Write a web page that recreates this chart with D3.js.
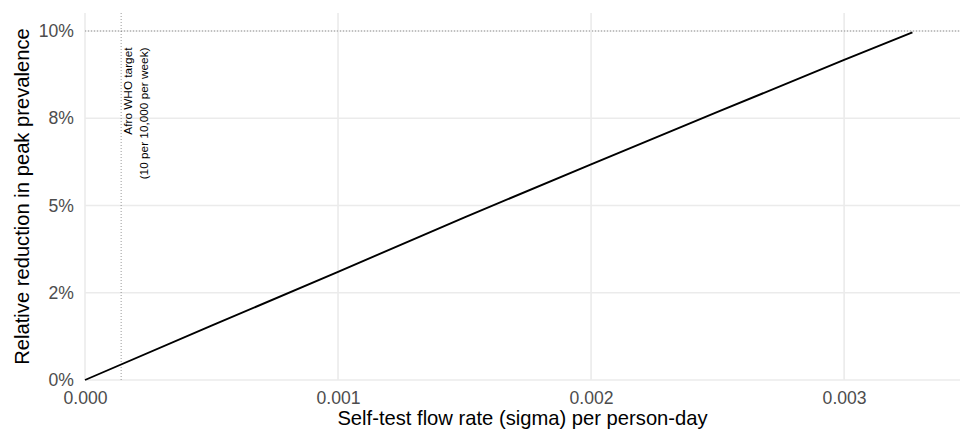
<!DOCTYPE html>
<html>
<head>
<meta charset="utf-8">
<script src="https://cdn.jsdelivr.net/npm/d3@7"></script>
<style>
    body { margin: 0; background: #fff; }
    text { font-family: "Liberation Sans", Arial, sans-serif; }
</style>
</head>
<body>
<script>
// データ
const sigma = [0, 0.0005, 0.001, 0.0015, 0.002, 0.0025, 0.003, 0.00327];
const reduction = [0, 0.01556, 0.0310, 0.0466, 0.0618, 0.0768, 0.0917, 0.0996];
const xTicks = [0, 0.001, 0.002, 0.003];
const yTicks = [0, 0.025, 0.05, 0.075, 0.1];
const yTickLabels = ["0%", "2%", "5%", "8%", "10%"];
const targetSigma = 10 / 10000 / 7;
const targetLabel = ["Afro WHO target", "(10 per 10,000 per week)"];
const hlineValue = 0.1;

let width = 960;
let height = 432;
let marginTop = 13;
let marginRight = 0;
let marginBottom = 52;
let marginLeft = 85;

window.addEventListener('load', () => {
    draw();
}, false);

function draw() {
    let chartWidth = width - marginLeft - marginRight;
    let chartHeight = height - marginTop - marginBottom;

    const svg = d3.select("body")
        .append("svg")
        .attr("width", width)
        .attr("height", height);

    const g = svg.append("g")
        .attr("transform", "translate(" + marginLeft + "," + marginTop + ")");

    let xScale = d3.scaleLinear()
        .domain([0, 0.003458])
        .range([0, chartWidth]);

    let yScale = d3.scaleLinear()
        .domain([0, 0.10516])
        .range([chartHeight, 0]);

    // grid
    g.append("g")
        .selectAll("line")
        .data(xTicks)
        .join("line")
        .attr("x1", d => xScale(d))
        .attr("x2", d => xScale(d))
        .attr("y1", 0)
        .attr("y2", chartHeight)
        .attr("stroke", "#ebebeb")
        .attr("stroke-width", 1.6);

    g.append("g")
        .selectAll("line")
        .data(yTicks)
        .join("line")
        .attr("x1", 0)
        .attr("x2", chartWidth)
        .attr("y1", d => yScale(d))
        .attr("y2", d => yScale(d))
        .attr("stroke", "#ebebeb")
        .attr("stroke-width", 1.6);

    // x axis
    const xAxis = g.append("g")
        .attr("transform", "translate(0," + chartHeight + ")")
        .call(d3.axisBottom(xScale).tickValues(xTicks).tickFormat(d3.format(".3f")).tickSize(0).tickPadding(12));
    xAxis.select(".domain").remove();
    xAxis.selectAll("text")
        .attr("fill", "#4d4d4d")
        .style("font-size", "17.6px");

    // y axis
    const yAxis = g.append("g")
        .call(d3.axisLeft(yScale).tickValues(yTicks).tickFormat((d, i) => yTickLabels[i]).tickSize(0).tickPadding(11));
    yAxis.select(".domain").remove();
    yAxis.selectAll("text")
        .attr("fill", "#4d4d4d")
        .style("font-size", "17.6px");

    // reference lines
    g.append("line")
        .attr("x1", xScale(targetSigma))
        .attr("x2", xScale(targetSigma))
        .attr("y1", 0)
        .attr("y2", chartHeight)
        .attr("stroke", "#555")
        .attr("stroke-width", 0.6)
        .attr("stroke-dasharray", "1,2");

    g.append("line")
        .attr("x1", 0)
        .attr("x2", chartWidth)
        .attr("y1", yScale(hlineValue))
        .attr("y2", yScale(hlineValue))
        .attr("stroke", "#555")
        .attr("stroke-width", 0.6)
        .attr("stroke-dasharray", "1,2");

    // line
    const line = d3.line()
        .x(d => xScale(d[0]))
        .y(d => yScale(d[1]));

    g.append("path")
        .datum(d3.zip(sigma, reduction))
        .attr("fill", "none")
        .attr("stroke", "#000")
        .attr("stroke-width", 1.9)
        .attr("d", line);

    // annotation
    const ann = g.append("text")
        .attr("transform", "translate(" + (xScale(targetSigma) + 10.5) + "," + (47.5 - marginTop) + ") rotate(-90)")
        .attr("text-anchor", "end")
        .style("font-size", "11.8px")
        .attr("fill", "#000");
    ann.selectAll("tspan")
        .data(targetLabel)
        .join("tspan")
        .attr("x", 0)
        .attr("dy", (d, i) => i === 0 ? 0 : 16.6)
        .text(d => d);

    // axis titles
    svg.append("text")
        .attr("x", marginLeft + chartWidth / 2)
        .attr("y", 425)
        .attr("text-anchor", "middle")
        .style("font-size", "20.2px")
        .attr("fill", "#000")
        .text("Self-test flow rate (sigma) per person-day");

    svg.append("text")
        .attr("transform", "translate(29," + (marginTop + chartHeight / 2) + ") rotate(-90)")
        .attr("text-anchor", "middle")
        .style("font-size", "20.2px")
        .attr("fill", "#000")
        .text("Relative reduction in peak prevalence");
}
</script>
</body>
</html>
